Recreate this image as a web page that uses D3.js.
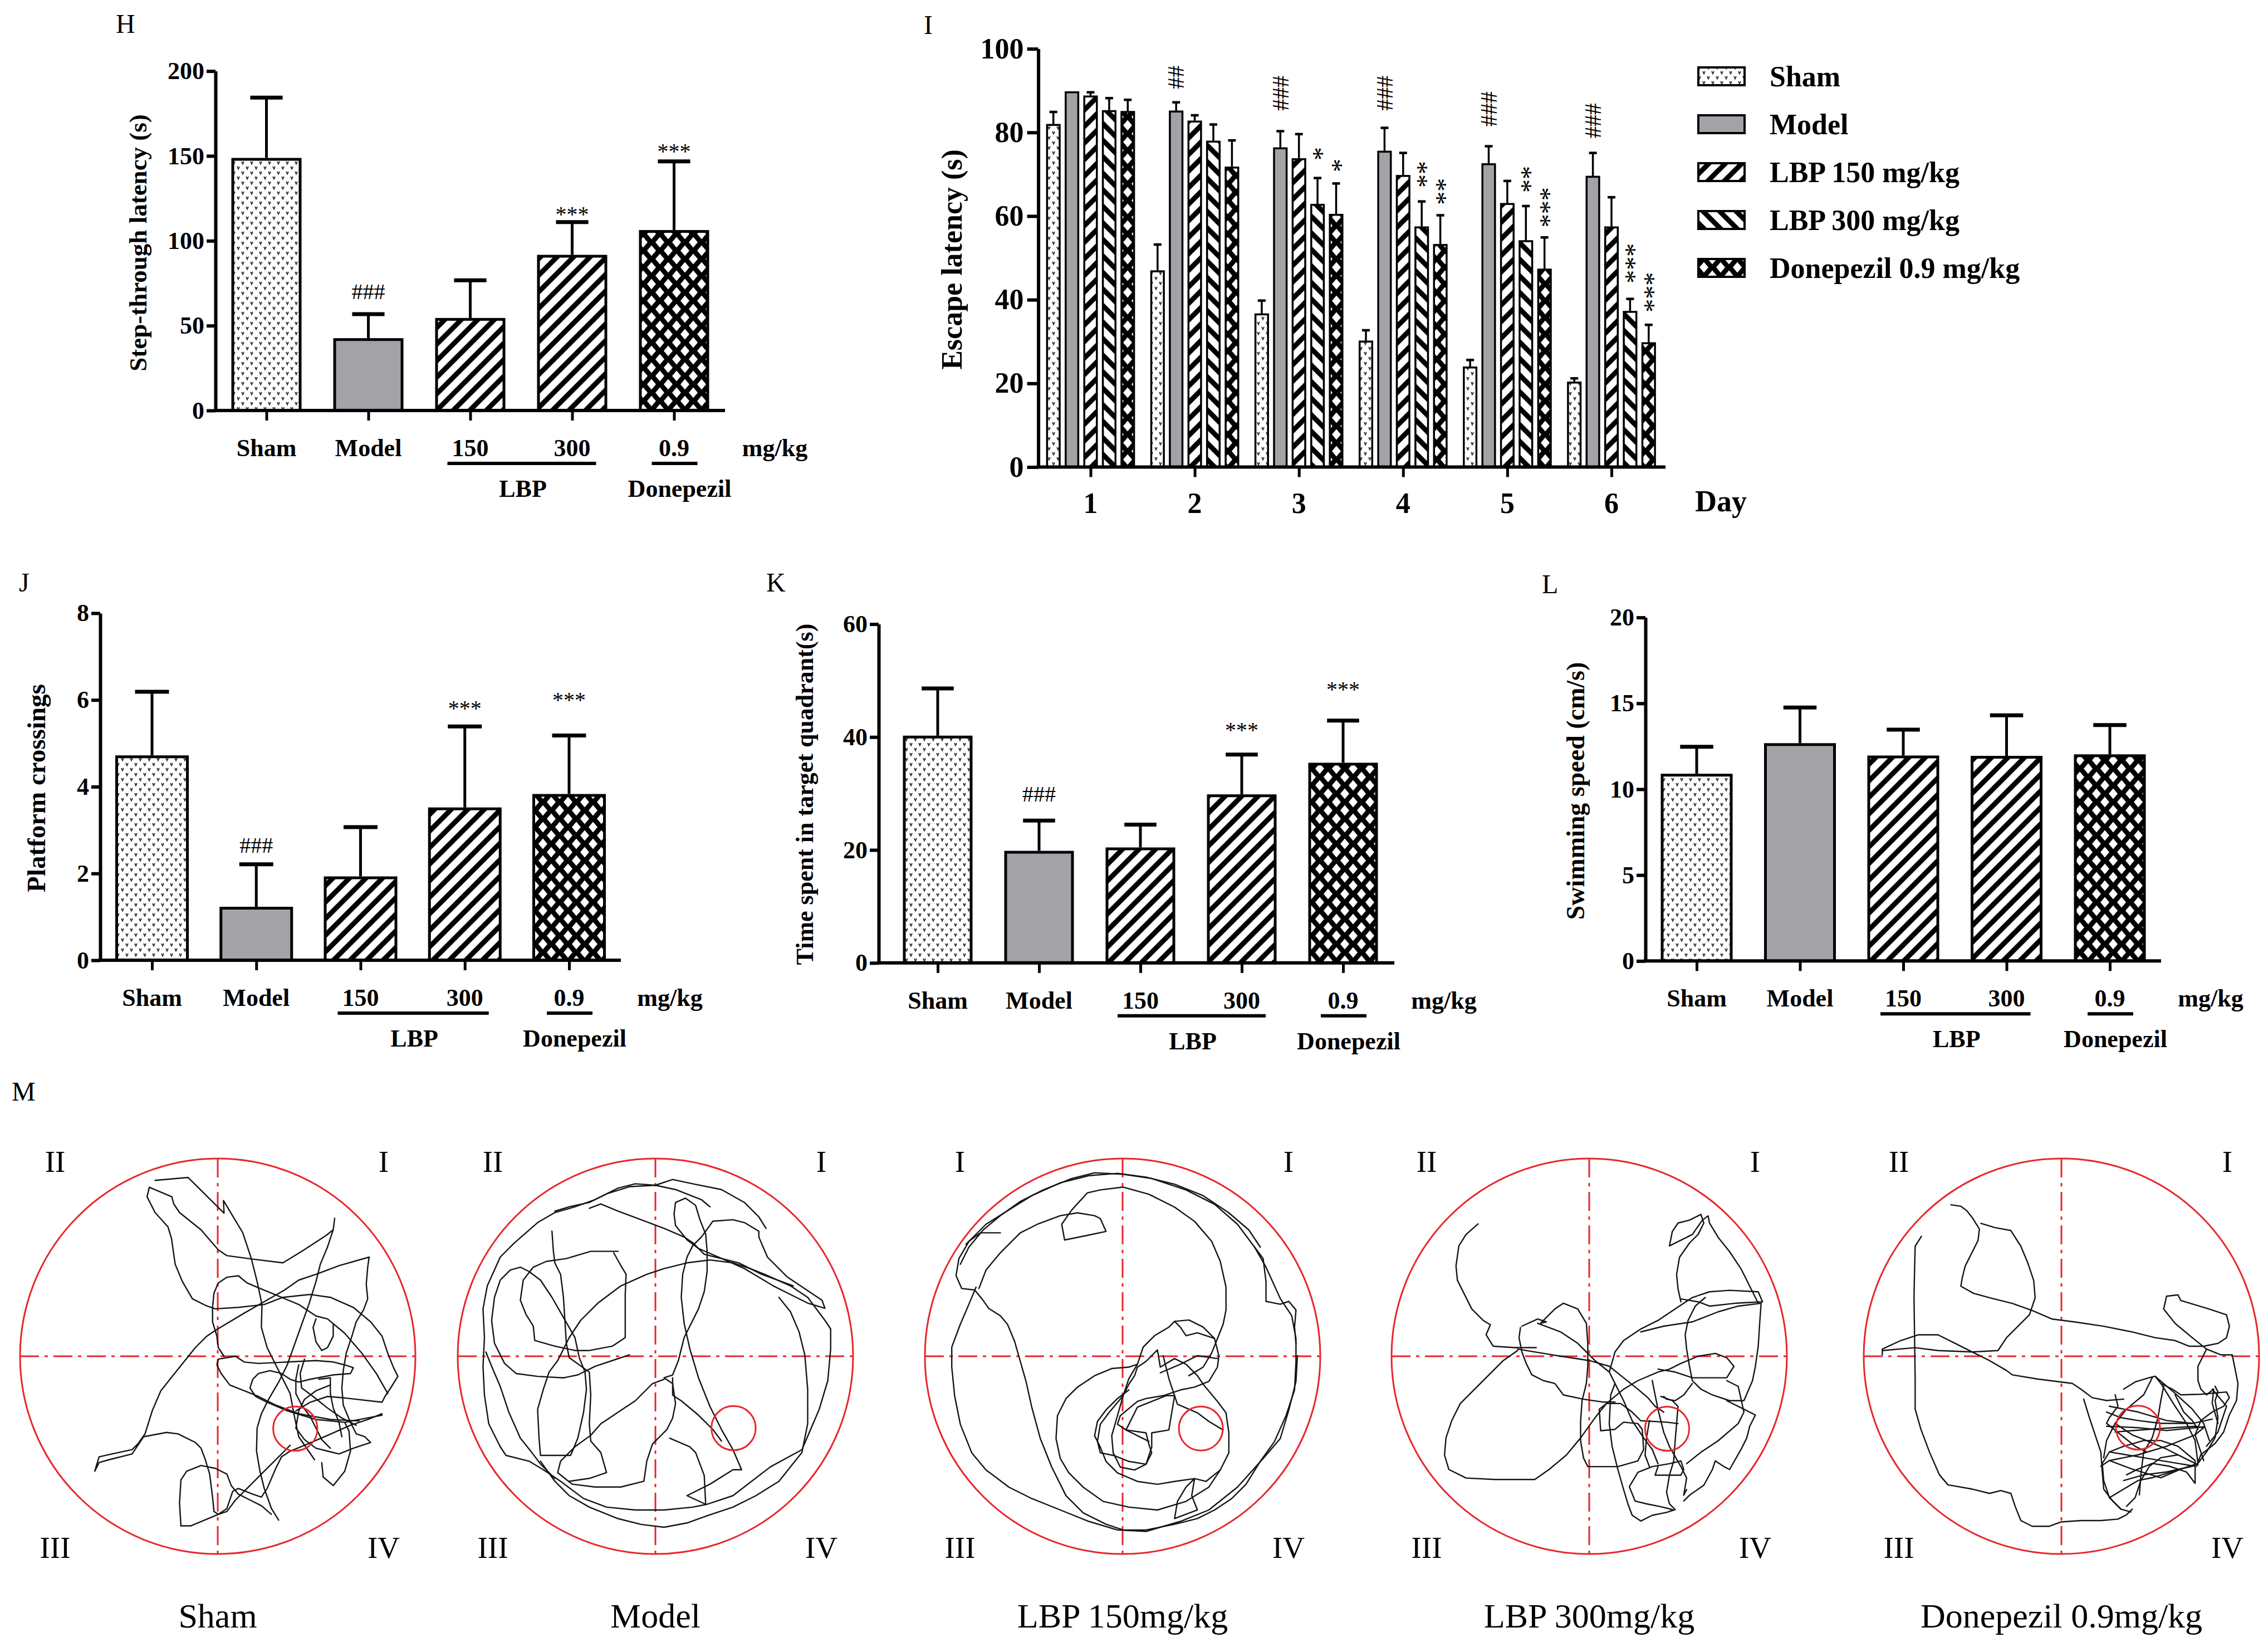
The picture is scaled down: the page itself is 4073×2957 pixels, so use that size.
<!DOCTYPE html>
<html><head><meta charset="utf-8">
<script src="https://cdn.jsdelivr.net/npm/d3@7"></script>
<style>html,body{margin:0;padding:0;background:#fff;} svg{display:block;}</style>
</head><body>
<svg id="fig" width="4073" height="2957"></svg>
<script>
// ================= DATA =================
const groupTickLabels = ["Sham","Model","150","300","0.9"];
const legendLabels = ["Sham","Model","LBP 150 mg/kg","LBP 300 mg/kg","Donepezil 0.9 mg/kg"];

// H: step-through latency
const stepMean = [148, 41.8, 53.7, 90.9, 105.5];
const stepErrTop = [184.4, 56.8, 76.7, 111, 146.8];
const stepTicks = [0, 50, 100, 150, 200];
const stepMarks = [{g:1,t:"###",at:65.6},{g:3,t:"***",at:111.3},{g:4,t:"***",at:148.3}];

// I: escape latency by day
const days = [1,2,3,4,5,6];
const escMean = [
  [81.8,46.8,36.5,30.0,23.8,20.2],
  [89.6,85.0,76.2,75.4,72.4,69.4],
  [88.6,82.6,73.6,69.6,62.9,57.3],
  [85.1,77.8,62.7,57.3,54.0,37.1],
  [84.9,71.6,60.3,53.1,47.2,29.6]
];
const escErrTop = [
  [84.9,53.2,39.8,32.7,25.6,21.2],
  [89.6,87.2,80.3,81.1,76.7,75.1],
  [89.6,84.1,79.6,75.1,68.4,64.5],
  [88.2,81.9,69.1,63.5,62.4,40.2],
  [87.8,78.1,67.8,60.2,54.9,34.0]
];
const escTicks = [0,20,40,60,80,100];
const escMarks = [
  {d:2,s:1,t:"##",at:90.4},{d:3,s:1,t:"###",at:85.2},{d:4,s:1,t:"###",at:85.2},
  {d:5,s:1,t:"###",at:81.4},{d:6,s:1,t:"###",at:78.6},
  {d:3,s:3,t:"*",at:73.3},{d:3,s:4,t:"*",at:70.5},
  {d:4,s:3,t:"**",at:66.8},{d:4,s:4,t:"**",at:62.7},
  {d:5,s:3,t:"**",at:65.6},{d:5,s:4,t:"***",at:57.3},
  {d:6,s:3,t:"***",at:43.9},{d:6,s:4,t:"***",at:37.0}
];

// J: platform crossings
const crossMean = [4.69, 1.2, 1.9, 3.49, 3.8];
const crossErrTop = [6.19, 2.21, 3.07, 5.39, 5.18];
const crossTicks = [0,2,4,6,8];
const crossMarks = [{g:1,t:"###",at:2.48},{g:3,t:"***",at:5.64},{g:4,t:"***",at:5.83}];

// K: time in target quadrant
const quadMean = [40.0, 19.6, 20.2, 29.6, 35.2];
const quadErrTop = [48.6, 25.2, 24.5, 36.9, 42.9];
const quadTicks = [0,20,40,60];
const quadMarks = [{g:1,t:"###",at:28.6},{g:3,t:"***",at:39.9},{g:4,t:"***",at:47.1}];

// L: swimming speed
const speedMean = [10.82, 12.6, 11.88, 11.86, 11.95];
const speedErrTop = [12.47, 14.76, 13.47, 14.3, 13.74];
const speedTicks = [0,5,10,15,20];

// M: swim tracks (tracking-camera pixel coordinates)
const trackNames = ["Sham","Model","LBP 150mg/kg","LBP 300mg/kg","Donepezil 0.9mg/kg"];
const quadrantNames = [["II","I","III","IV"],["II","I","III","IV"],["I","I","III","IV"],["II","I","III","IV"],["II","I","III","IV"]];
const poolCenterPx = [[758,770],[770,765],[778,762],[780,765],[832,765]];
const poolRadiusPx = [688,688,692,690,692];
const platformPx = [[1028,1022],[1042,1015],[1052,1015],[1052,1018],[1100,1015]];
const platformRadiusPx = 77;

const shamTrack = [
 [540,158,655,148,780,272,778,228,800,265,845,340,875,430,895,510,912,590,910,670,930,740,970,820,1010,900,1025,980,1040,1050,1095,1130],
 [520,182,598,215,605,240,625,270,700,330,760,400,790,420,880,432,985,445,1050,405,1135,350,1160,330,1165,290,1160,330,1140,390,1115,450,1100,510,1075,590,1050,660,1025,730,1000,800,970,860,935,920,910,970,895,1020,893,1100,905,1170,920,1230,945,1300,970,1340],
 [520,182,512,215,540,270,585,320,597,360,610,450,635,510,670,570,720,595,750,605,830,600,920,590,985,565,1080,555,1150,565,1230,600,1290,650,1330,700,1350,760,1370,810,1385,840,1360,880,1340,910,1330,930,1200,915,1140,910,1080,930,1030,960],
 [1285,425,1280,460,1275,520,1280,570,1265,610,1240,650,1225,700,1205,760,1195,820,1190,880,1195,940,1220,1000,1240,1040,1270,1050,1290,1070,1230,1090,1180,1110,1140,1100,1100,1090,1060,1060,1030,1020,1040,960,1060,920,1100,890,1150,870],
 [1285,425,1180,455,1100,485,1040,505,990,540,920,580,850,620,750,680,720,700,680,740,640,790,600,840,560,890,530,960,505,1040,480,1075,460,1095,390,1110,345,1120,330,1170,345,1140,380,1130,460,1110,500,1050,580,1035,620,1040,680,1070,700,1090,715,1130,730,1180,740,1260,745,1310,760,1320,790,1300,810,1240,830,1230,880,1250,910,1260,930,1230,960,1160,980,1120,1010,1100,1060,1080,1130,1050,1220,1010,1280,990,1330,970],
 [630,1360,625,1280,630,1200,650,1170,700,1150,750,1160,790,1180,805,1220,830,1250,870,1270,910,1290,945,1320],
 [630,1360,665,1360,760,1320,790,1310,820,1270,860,1230,900,1190,950,1140,990,1100,1010,1080],
 [760,780,820,770,850,790,900,795,1000,790,1100,785,1160,790,1200,800,1230,810,1220,830,1160,835,1080,850,1040,860,1010,850,980,830,940,820,900,830,880,850,870,880,890,910,930,930,1000,960,1100,990,1200,1000,1330,975],
 [760,780,755,800,770,830,800,870,850,890,900,910,960,940,1040,970,1150,990,1250,995],
 [740,600,745,550,760,515,790,495,830,490,860,515,920,540,980,565,1040,590,1100,630,1140,640,1200,690,1260,760,1310,830,1350,900],
 [1100,640,1090,670,1100,720,1120,750,1140,740,1160,700,1160,660],
 [1120,1140,1125,1190,1160,1220,1200,1170,1220,1100,1215,1030,1200,1000],
 [740,600,740,650,755,700,760,740,780,770],
 [1040,800,1030,850,1030,900,1050,940,1080,980,1100,1020,1120,1060,1150,1090],
 [1060,780,1045,830,1050,880,1090,910,1140,950,1190,985,1240,1010],
 [1110,850,1150,845,1150,900,1160,950,1180,1000,1190,1050]
];
const modelTrack = [
 [1155,320,1130,280,1080,230,1000,185,900,165,830,150,770,170,700,165,640,180,560,220,490,245,420,265,360,300,280,370,230,420,185,520,170,600,175,700,170,800,175,900,190,1000,230,1080,250,1110,330,1130,380,1160,440,1200,520,1260,600,1290,700,1300,800,1300,900,1290,950,1280,980,1270,1040,1250,1170,1150,1280,1090,1340,950,1370,850,1380,740,1380,670,1360,640,1300,560,1240,520,1150,480,1100,460,1040,440,960,430,880,440,800,460,740,480,650,520,570,580,510,640,470,700,430,780,400,820,380,880,360,950,365,1050,370,1110,475,1110,500,1050,520,960,530,880,525,820,505,770,490,700,450,630,410,560,370,500,330,470,300,455,265,465,230,500,210,560,200,640,210,720,245,790,285,825,360,835,450,840,500,830,560,800,620,780,680,760],
 [640,400,545,400,460,425,390,435,345,455,310,500,300,570,320,620,345,660,350,710,420,730,490,745,540,745,620,730,665,700,665,620,665,550,668,480,650,450,625,405],
 [835,270,840,230,875,215,910,240,925,290,945,340,950,400,950,470,940,540,920,600,890,660,870,700,860,740,850,780,830,830,800,840,830,860,840,930,830,980,810,1020,760,1070,740,1130,730,1200,650,1220,560,1220,480,1210,430,1170,440,1130,490,1080,545,1040,580,1000,640,960,700,920,760,860,800,845],
 [835,270,840,310,880,360,920,390,990,420,1080,460,1180,520,1260,560,1300,580,1360,598,1350,570,1290,530,1230,490,1160,420,1130,350,1130,330,1080,300,1040,290,970,295,945,330,930,350,900,380],
 [820,1050,890,1080,910,1100,940,1180,945,1280,880,1250,960,1210,1040,1160,1070,1160,1040,1090,1000,1020,960,940,920,840,890,740,870,650,860,560,865,480,880,420,900,380],
 [830,840,830,900,860,920,920,970,970,1020,1000,1060],
 [370,1130,420,1200,470,1250,540,1290,640,1330,720,1350,800,1360,880,1345,950,1320,1040,1290,1120,1250,1200,1200,1280,1100,1300,1000,1300,880,1290,760,1270,680,1240,610,1200,560],
 [180,750,200,800,230,870,260,960,300,1050,340,1100,370,1140,420,1190],
 [420,260,470,245,540,230,600,200,680,175,770,170,840,185,930,220,960,245],
 [410,330,415,400,420,440,440,480,450,560,455,640,460,720,470,770,540,820,545,900,540,1000,545,1060,580,1100,600,1170,540,1190,470,1200],
 [540,250,580,235,640,260,720,290,800,320,870,350,900,370,940,410,980,420,1060,440,1140,480,1250,520]
];
const lbp150Track = [
 [350,330,280,330,240,360,205,420,195,480,215,525,260,530,285,560,310,595,350,620,375,650,400,710,420,780,440,850,460,940,490,1050,530,1150,580,1250,640,1310,720,1350,780,1370,860,1370,960,1350,1040,1330,1100,1300,1160,1260,1210,1210,1260,1130,1310,1060,1350,970,1380,880,1385,780,1385,700,1370,620,1330,560,1280,450,1240,380,1180,300,1100,230,1000,180,880,140,780,125,680,120,600,140,500,180,420,220,350,270,290,320,240,380,210,440],
 [265,520,240,580,210,650,180,730,180,800,190,900,210,1000,250,1100,300,1160,380,1220,460,1260,560,1300,660,1340,760,1370,860,1375,980,1340,1080,1300,1180,1220,1270,1120,1330,1050,1360,950,1385,850,1390,760],
 [275,525,300,460,350,400,420,330,480,300,560,270,620,260,680,270,700,280,720,325,650,340,575,355,565,300,600,250,655,190,700,180,780,170,870,195,960,240,1030,290,1090,360,1120,430,1140,520,1140,600,1130,650,1110,700,1090,750,1060,800,1010,830],
 [1240,380,1270,420,1280,500,1280,570,1330,580,1360,570,1385,600,1380,660,1385,720],
 [230,370,300,300,380,250,460,200,560,155,660,130,760,122,860,135,960,160,1060,200,1150,260,1220,320,1260,380],
 [960,640,1010,635,1060,660,1100,700,1115,760,1110,800,1080,850,1030,870,980,880,920,900,860,910,830,920,770,970,760,1000,790,1020,860,1030,870,1070,880,1100,860,1140,800,1130,750,1110,700,1100,690,1060,700,1000,730,960,780,900,800,860,820,830,830,800,860,780,900,740,910,800,960,770,1000,790,1040,830,1060,860,1110,920,1140,960,1150,1030,1150,1100,1120,1160,1070,1200,1030,1190,1020,1250,1040,1300,960,1330,970,1270,1000,1220,1030,1190,960,1200,900,1210,830,1200,760,1170,720,1130,700,1080,680,1040,690,990,720,950,760,910,800,880],
 [740,805,800,800,830,790,850,730,890,690,940,660,960,640,980,660,1000,690,1040,680,1100,700],
 [830,790,800,840,780,900,760,970,740,1040,745,1100,770,1150,820,1160,860,1140,880,1080,880,1030,940,1020,950,960,960,900,930,900,880,920,830,940,800,1000,790,1020,830,1040,870,1060],
 [740,805,680,830,620,870,580,910,550,970,545,1050,560,1120,590,1170,640,1220,710,1270,800,1290,900,1300,1000,1270,1080,1220,1120,1160],
 [920,760,940,840,960,900,970,930,1040,960,1080,990,1130,1020],
 [910,820,980,790,1040,760,1110,770]
];
const lbp300Track = [
 [392,303,350,340,325,380,315,450,320,500,345,550,370,600,410,640,435,655,420,690,445,730,520,735,595,735],
 [530,745,480,780,430,830,380,880,330,930,300,990,280,1050,275,1110,290,1160,350,1190,450,1195,590,1195,640,1160,700,1110,750,1050,800,980,840,930,900,880,950,850,1020,820,1060,810,1100,790,1160,765,1220,755,1260,770,1285,800,1260,840,1140,840,1080,820,1020,810],
 [545,660,600,635,630,645,610,650,660,600,690,580,740,600,770,650,775,720,775,800,770,860,755,920,750,990,750,1060,760,1120,775,1150,880,1150,950,1130,970,1090,965,1020,950,1000,900,995,870,1020,820,1025,815,950,840,930,890,930,930,960,960,990,1050,995,1090,1000],
 [540,665,535,700,545,750,560,790,580,830,620,850,660,860,690,900,760,915,830,925,870,925],
 [530,740,650,760,780,780,850,800,900,840,950,880,985,910,1010,940,1040,960],
 [600,650,680,680,740,720,800,780,850,820,870,860,900,920,930,990,970,1050,1000,1090,1020,1140],
 [850,820,870,750,900,710,960,670,1020,640,1080,600,1140,560,1200,540,1270,535,1370,540,1385,575,1290,580,1200,590,1160,575,1100,565],
 [960,680,1040,660,1140,645,1230,610,1300,590,1380,580,1375,650,1370,730,1360,800,1350,850,1320,920,1270,920,1210,900,1170,880,1140,850,1130,800,1120,740,1115,690,1125,640,1150,590,1185,560],
 [1100,575,1090,530,1085,480,1095,420,1130,370,1160,340,1180,300,1170,270,1130,290,1090,300,1070,330,1060,380,1100,360,1140,340,1175,290,1195,275,1200,300,1230,350,1270,400,1310,460,1340,520,1370,580],
 [1030,905,1070,920,1090,940,1085,1000,1080,1060,1075,1130,1060,1180,1050,1240,1060,1280,1080,1300,1050,1310,1000,1320,960,1340,930,1320,915,1280,900,1230,880,1160,860,1080,850,1000,855,900,870,860],
 [1020,1150,1010,1180,1100,1180,1110,1160,1100,1130,1060,1140,1000,1150,950,1170,920,1220,940,1270,980,1280,1030,1290,1070,1300],
 [1110,1270,1130,1250,1180,1215,1210,1160,1220,1130,1250,1150,1270,1160,1310,1090,1330,1050,1340,1010,1360,970,1320,950,1260,920],
 [1120,1140,1170,1100,1230,1060,1300,1000,1320,960,1300,870,1260,850],
 [1000,850,1010,900,1020,950,1040,1030,1060,1080,1100,1150,1120,1190,1110,1250,1120,1230],
 [1140,860,1110,900,1080,920,1050,915,1040,905],
 [990,990,980,1050,975,1110,990,1150]
];
const donepezilTrack = [
 [445,235,480,240,500,255,520,280,545,320,540,360,520,400,495,450,485,490,480,520,525,545,580,560,660,580,730,605,800,635,880,645,980,660,1080,680,1160,700,1230,710,1280,730,1330,730,1380,720,1410,700,1420,660,1410,620,1350,600,1250,570,1240,550,1200,555,1190,600,1230,650,1290,700,1340,740,1390,760,1430,760,1440,810,1450,860,1445,920,1420,970,1400,1030,1370,1070,1320,1110,1305,1150],
 [342,345,320,380,318,460,316,560,318,700,320,850,320,950,340,1020,370,1100,405,1180,435,1215,520,1230,580,1245,620,1235,655,1245,670,1290,690,1340,730,1360,790,1360,830,1345,900,1340,970,1340,1030,1335,1060,1320,1080,1300],
 [205,760,205,740,270,710,330,690,400,690,460,720,520,750,580,780,640,815,660,830,750,845,870,860,900,880,940,910,990,920,1050,915],
 [205,745,320,735,400,745,520,750,610,745,640,700,680,660,720,620,740,560,735,500,715,440,690,380,655,325,600,315,550,300],
 [910,915,930,980,950,1040,970,1100,975,1170,980,1230,1010,1270,1040,1300,1075,1310],
 [990,960,1040,980,1100,990,1180,1000,1290,1000,1360,985],
 [1020,1030,1150,1020,1300,1010,1330,1015,1300,1040,1200,1080,1100,1110,1000,1130,970,1150],
 [1050,880,1090,855,1140,840,1160,835,1180,860,1220,880,1250,900,1320,898,1410,890,1420,910,1400,940,1360,960,1320,990,1300,1040,1320,1100,1330,1130],
 [1020,900,1030,940,1000,980,990,1000,1040,1040,1090,1080,1130,1100],
 [1190,870,1180,920,1170,980,1150,1050,1120,1100,1110,1180,1105,1250],
 [1040,1300,1000,1260,980,1200,975,1140,1000,1100,1050,1080,1120,1060,1180,1060,1240,1080,1300,1130,1300,1210,1270,1170,1210,1150,1150,1140,1100,1160,1060,1180],
 [1000,1130,1080,1160,1180,1190,1250,1160,1310,1140,1340,1100,1370,1050,1380,980,1370,920,1380,890,1370,870],
 [1020,1000,1080,1040,1130,1060,1200,1090,1260,1120,1310,1145],
 [1230,900,1260,960,1290,990,1310,1020],
 [1310,800,1310,850,1320,880,1340,900,1365,880,1360,930,1380,1000],
 [1000,940,1100,960,1200,990,1290,1000],
 [1060,1290,1090,1260,1110,1200,1140,1150,1180,1120,1240,1110],
 [1340,740,1320,780,1310,800],
 [1150,840,1120,900,1060,950,1020,1000,990,1060,980,1120],
 [1180,860,1230,940,1270,1000,1300,1060,1310,1140],
 [990,1010,1100,1015,1200,1025,1330,1012],
 [1000,1100,1120,1120,1240,1140,1300,1150],
 [1050,1200,1120,1180,1200,1170,1290,1150],
 [1160,835,1230,895,1290,950,1330,1000,1350,1060],
 [1000,1260,1050,1230,1100,1200,1150,1190,1250,1160],
 [1360,880,1410,940,1380,1030,1340,1080]
];
const tracks = [shamTrack, modelTrack, lbp150Track, lbp300Track, donepezilTrack];

// ================= DRAWING =================
const SERIF = "'Liberation Serif','Times New Roman',serif";
const svg = d3.select("#fig");
svg.append("rect").attr("width",4073).attr("height",2957).attr("fill","#fff");
const defs = svg.append("defs");

// patterns
const ps = defs.append("pattern").attr("id","pSham").attr("patternUnits","userSpaceOnUse").attr("width",16).attr("height",18);
ps.append("rect").attr("width",16).attr("height",18).attr("fill","#fff");
ps.append("path").attr("d","M2,2 L4,6.5 L6,2 M10,11 L12,15.5 L14,11").attr("stroke","#333").attr("stroke-width",1.9).attr("fill","none");
function stripes(id, angle){
  const p = defs.append("pattern").attr("id",id).attr("patternUnits","userSpaceOnUse")
    .attr("width",21).attr("height",21).attr("patternTransform",`rotate(${angle})`);
  p.append("rect").attr("width",21).attr("height",21).attr("fill","#fff");
  p.append("rect").attr("width",9).attr("height",21).attr("fill","#000");
}
stripes("pFwd",45); stripes("pBack",-45);
const pc = defs.append("pattern").attr("id","pCross").attr("patternUnits","userSpaceOnUse").attr("width",30).attr("height",30);
pc.append("rect").attr("width",30).attr("height",30).attr("fill","#000");
const dia = (x,y)=>`M${x},${y-9.5}L${x+8},${y}L${x},${y+9.5}L${x-8},${y}Z`;
pc.append("path").attr("d",[dia(15,15),dia(0,0),dia(30,0),dia(0,30),dia(30,30)].join("")).attr("fill","#fff");

const GRAY = "#a3a3a7";
const fillsFive = ["url(#pSham)", GRAY, "url(#pFwd)", "url(#pFwd)", "url(#pCross)"];
const fillsLegend = ["url(#pSham)", GRAY, "url(#pFwd)", "url(#pBack)", "url(#pCross)"];

function panelLetter(t, x, y){
  svg.append("text").attr("x",x).attr("y",y).text(t)
    .attr("font-family",SERIF).attr("font-size",48);
}

function styleAxis(sel, fs, sw){
  sel.attr("font-family",SERIF).attr("font-size",fs).attr("font-weight","bold");
  sel.select(".domain").attr("stroke","#000").attr("stroke-width",sw);
  sel.selectAll(".tick line").attr("stroke","#000").attr("stroke-width",sw);
  sel.selectAll(".tick text").attr("fill","#000");
}

function barPanel(c){
  const g = svg.append("g");
  const y = d3.scaleLinear().domain([0, c.max]).range([c.y0, c.yTop]);
  const x = d3.scalePoint().domain(d3.range(c.mean.length)).range([c.c0, c.c4]);
  g.selectAll("rect.bar").data(c.mean).join("rect").attr("class","bar")
    .attr("x",(d,i)=>x(i)-c.bw/2).attr("y",d=>y(d))
    .attr("width",c.bw).attr("height",d=>y(0)-y(d))
    .attr("fill",(d,i)=>fillsFive[i]).attr("stroke","#000").attr("stroke-width",5);
  const cap = c.bw*0.24;
  g.selectAll("line.ev").data(c.err).join("line").attr("class","ev")
    .attr("x1",(d,i)=>x(i)).attr("x2",(d,i)=>x(i))
    .attr("y1",(d,i)=>y(c.mean[i])-2.5).attr("y2",d=>y(d))
    .attr("stroke","#000").attr("stroke-width",5);
  g.selectAll("line.ec").data(c.err).join("line").attr("class","ec")
    .attr("x1",(d,i)=>x(i)-cap).attr("x2",(d,i)=>x(i)+cap)
    .attr("y1",d=>y(d)).attr("y2",d=>y(d))
    .attr("stroke","#000").attr("stroke-width",7);
  const ya = g.append("g").attr("transform",`translate(${c.axisX},0)`)
    .call(d3.axisLeft(y).tickValues(c.ticks).tickSize(16).tickSizeOuter(0).tickPadding(4));
  styleAxis(ya, 44, 6);
  g.append("line").attr("x1",c.axisX-3).attr("x2",c.axisEnd).attr("y1",y(0)).attr("y2",y(0))
    .attr("stroke","#000").attr("stroke-width",6);
  const xa = g.append("g").attr("transform",`translate(0,${y(0)})`)
    .call(d3.axisBottom(x).tickSize(18).tickSizeOuter(0).tickFormat(""));
  xa.select(".domain").remove();
  xa.selectAll(".tick line").attr("stroke","#000").attr("stroke-width",5);
  const lab = {"font-family":SERIF,"font-size":44,"font-weight":"bold","text-anchor":"middle"};
  const T = (sel)=>{for(const k in lab) sel.attr(k,lab[k]); return sel;};
  g.selectAll("text.cat").data(groupTickLabels).join("text").attr("class","cat")
    .attr("x",(d,i)=>x(i)).attr("y",y(0)+82).text(d=>d).call(T);
  T(g.append("text").attr("x",x(4)+181).attr("y",y(0)+82).text("mg/kg"));
  g.append("line").attr("x1",x(2)-41).attr("x2",x(3)+43).attr("y1",y(0)+95).attr("y2",y(0)+95)
    .attr("stroke","#000").attr("stroke-width",6);
  g.append("line").attr("x1",x(4)-40).attr("x2",x(4)+42).attr("y1",y(0)+95).attr("y2",y(0)+95)
    .attr("stroke","#000").attr("stroke-width",6);
  T(g.append("text").attr("x",(x(2)+x(3))/2+3).attr("y",y(0)+155).text("LBP"));
  T(g.append("text").attr("x",x(4)+10).attr("y",y(0)+155).text("Donepezil"));
  g.selectAll("text.mk").data(c.marks||[]).join("text").attr("class","mk")
    .attr("x",d=>x(d.g)).attr("y",d=>y(d.at)).text(d=>d.t)
    .attr("font-family",SERIF).attr("font-size",40).attr("text-anchor","middle");
  g.append("text").attr("transform",`translate(${c.ylx},${c.yly}) rotate(-90)`)
    .attr("dy","0.35em").attr("text-anchor","middle").text(c.ylabel)
    .attr("font-family",SERIF).attr("font-size",c.ylfs).attr("font-weight","bold");
}

// ---- H ----
panelLetter("H", 208, 59);
barPanel({mean:stepMean, err:stepErrTop, ticks:stepTicks, marks:stepMarks, max:200,
  y0:737, yTop:127.6, axisX:387, axisEnd:1302, c0:478.5, c4:1210.5, bw:121,
  ylabel:"Step-through latency (s)", ylx:247, yly:436, ylfs:45});
// ---- J ----
panelLetter("J", 34, 1062);
barPanel({mean:crossMean, err:crossErrTop, ticks:crossTicks, marks:crossMarks, max:8,
  y0:1724, yTop:1100.9, axisX:180, axisEnd:1115, c0:273, c4:1022, bw:127,
  ylabel:"Platform crossings", ylx:65, yly:1415, ylfs:47});
// ---- K ----
panelLetter("K", 1376, 1062);
barPanel({mean:quadMean, err:quadErrTop, ticks:quadTicks, marks:quadMarks, max:60,
  y0:1728.8, yTop:1120.5, axisX:1578, axisEnd:2504, c0:1684, c4:2412, bw:120,
  ylabel:"Time spent in target quadrant(s)", ylx:1445, yly:1426, ylfs:44});
// ---- L ----
panelLetter("L", 2769, 1065);
barPanel({mean:speedMean, err:speedErrTop, ticks:speedTicks, marks:[], max:20,
  y0:1725.3, yTop:1108.6, axisX:2955, axisEnd:3881, c0:3047, c4:3789, bw:124,
  ylabel:"Swimming speed (cm/s)", ylx:2829, yly:1420, ylfs:46});

// ---- I ----
(function(){
  panelLetter("I", 1659, 61);
  const g = svg.append("g");
  const y = d3.scaleLinear().domain([0,100]).range([838.5, 87.6]);
  const xd = d3.scalePoint().domain(days).range([1958.5, 2894]);
  const xs = d3.scalePoint().domain(d3.range(5)).range([-66.8, 66.8]);
  const bw = 22.6, cap = 7;
  const rows = [];
  escMean.forEach((arr,s)=>arr.forEach((v,k)=>rows.push({s, day:days[k], v, e:escErrTop[s][k]})));
  g.selectAll("rect.b").data(rows).join("rect").attr("class","b")
    .attr("x",d=>xd(d.day)+xs(d.s)-bw/2).attr("y",d=>y(d.v))
    .attr("width",bw).attr("height",d=>y(0)-y(d.v))
    .attr("fill",d=>fillsLegend[d.s]).attr("stroke","#000").attr("stroke-width",3.5);
  const er = rows.filter(d=>d.e>d.v+0.3);
  g.selectAll("line.ev").data(er).join("line").attr("class","ev")
    .attr("x1",d=>xd(d.day)+xs(d.s)).attr("x2",d=>xd(d.day)+xs(d.s))
    .attr("y1",d=>y(d.v)-1.5).attr("y2",d=>y(d.e)).attr("stroke","#000").attr("stroke-width",3.5);
  g.selectAll("line.ec").data(er).join("line").attr("class","ec")
    .attr("x1",d=>xd(d.day)+xs(d.s)-cap).attr("x2",d=>xd(d.day)+xs(d.s)+cap)
    .attr("y1",d=>y(d.e)).attr("y2",d=>y(d.e)).attr("stroke","#000").attr("stroke-width",4.5);
  const ya = g.append("g").attr("transform","translate(1864.6,0)")
    .call(d3.axisLeft(y).tickValues(escTicks).tickSize(20).tickSizeOuter(0).tickPadding(6));
  styleAxis(ya, 52, 6);
  g.append("line").attr("x1",1861.6).attr("x2",2991).attr("y1",y(0)).attr("y2",y(0))
    .attr("stroke","#000").attr("stroke-width",6);
  const xa = g.append("g").attr("transform",`translate(0,${y(0)})`)
    .call(d3.axisBottom(xd).tickSize(18).tickSizeOuter(0).tickFormat(""));
  xa.select(".domain").remove();
  xa.selectAll(".tick line").attr("stroke","#000").attr("stroke-width",5);
  g.selectAll("text.day").data(days).join("text").attr("class","day")
    .attr("x",d=>xd(d)).attr("y",y(0)+82).text(d=>d)
    .attr("font-family",SERIF).attr("font-size",52).attr("font-weight","bold").attr("text-anchor","middle");
  g.append("text").attr("x",3044).attr("y",918).text("Day")
    .attr("font-family",SERIF).attr("font-size",54).attr("font-weight","bold");
  g.append("text").attr("transform","translate(1709,466) rotate(-90)").attr("dy","0.35em")
    .attr("text-anchor","middle").text("Escape latency (s)")
    .attr("font-family",SERIF).attr("font-size",52).attr("font-weight","bold");
  g.selectAll("text.mk").data(escMarks).join("text").attr("class","mk")
    .attr("transform",d=>`translate(${xd(d.d)+xs(d.s)},${y(d.at)}) rotate(-90)`)
    .attr("dy",d=>d.t[0]==="*"?"0.5em":"0.34em")
    .attr("font-size",d=>d.t[0]==="*"?48:42)
    .attr("font-family",SERIF).text(d=>d.t);
  const ly = d3.scalePoint().domain(d3.range(5)).range([137, 481]);
  const lg = svg.append("g");
  lg.selectAll("rect").data(legendLabels).join("rect")
    .attr("x",3050).attr("y",(d,i)=>ly(i)-16).attr("width",83).attr("height",32)
    .attr("fill",(d,i)=>fillsLegend[i]).attr("stroke","#000").attr("stroke-width",4);
  lg.selectAll("text").data(legendLabels).join("text")
    .attr("x",3178).attr("y",(d,i)=>ly(i)+18).text(d=>d)
    .attr("font-family",SERIF).attr("font-size",52).attr("font-weight","bold");
})();

// ---- M ----
(function(){
  panelLetter("M", 21, 1976);
  const RED = "#e8262b";
  const cxs = [391, 1177, 2016, 2854, 3702];
  const cy = 2435, R = 355;
  const line = d3.line();
  tracks.forEach((strands,k)=>{
    const g = svg.append("g");
    const pcx = poolCenterPx[k], pr = poolRadiusPx[k];
    const sx = d3.scaleLinear().domain([pcx[0]-pr, pcx[0]+pr]).range([cxs[k]-R, cxs[k]+R]);
    const sy = d3.scaleLinear().domain([pcx[1]-pr, pcx[1]+pr]).range([cy-R, cy+R]);
    g.append("circle").attr("cx",sx(pcx[0])).attr("cy",sy(pcx[1])).attr("r",R)
      .attr("fill","none").attr("stroke",RED).attr("stroke-width",3);
    g.append("line").attr("x1",sx(pcx[0]-pr)).attr("x2",sx(pcx[0]+pr)).attr("y1",sy(pcx[1])).attr("y2",sy(pcx[1]))
      .attr("stroke",RED).attr("stroke-width",3).attr("stroke-dasharray","34,10,6,10");
    g.append("line").attr("y1",sy(pcx[1]-pr)).attr("y2",sy(pcx[1]+pr)).attr("x1",sx(pcx[0])).attr("x2",sx(pcx[0]))
      .attr("stroke",RED).attr("stroke-width",3).attr("stroke-dasharray","34,10,6,10");
    g.selectAll("path.tr").data(strands).join("path").attr("class","tr")
      .attr("d",a=>line(d3.range(0,a.length,2).map(i=>[sx(a[i]),sy(a[i+1])])))
      .attr("fill","none").attr("stroke","#141414").attr("stroke-width",2.4)
      .attr("stroke-linejoin","round").attr("stroke-linecap","round");
    g.append("circle").attr("cx",sx(platformPx[k][0])).attr("cy",sy(platformPx[k][1]))
      .attr("r",sx(platformPx[k][0]+platformRadiusPx)-sx(platformPx[k][0]))
      .attr("fill","none").attr("stroke",RED).attr("stroke-width",3);
    const q = quadrantNames[k];
    const qpos = [[-292,-350],[298,-350],[-292,343],[298,343]];
    g.selectAll("text.q").data(q).join("text").attr("class","q")
      .attr("x",(d,i)=>cxs[k]+qpos[i][0]).attr("y",(d,i)=>cy+qpos[i][1]).attr("dy","0.35em")
      .attr("text-anchor","middle").text(d=>d)
      .attr("font-family",SERIF).attr("font-size",55);
    g.append("text").attr("x",cxs[k]).attr("y",2922).attr("text-anchor","middle")
      .text(trackNames[k]).attr("font-family",SERIF).attr("font-size",62);
  });
})();
</script>
</body></html>
